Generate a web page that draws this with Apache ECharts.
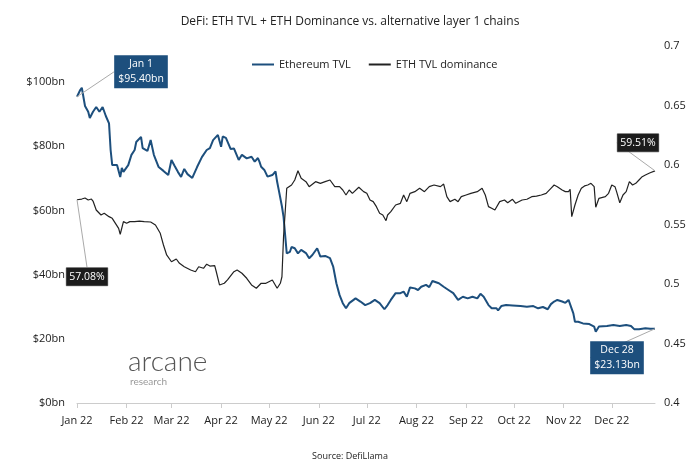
<!DOCTYPE html>
<html>
<head>
<meta charset="utf-8">
<script src="https://cdn.jsdelivr.net/npm/echarts@6/dist/echarts.min.js"></script>
<style>
  html, body { margin: 0; padding: 0; background: #fff; }
  #ethTvlChart { width: 700px; height: 475px; }
</style>
</head>
<body>
<div id="ethTvlChart"></div>
<script>
// days counted from Jan 1 2022
const tvlDays = [0, 2, 3, 4, 5, 7, 8, 9, 10, 12, 14, 16, 18, 20, 21, 22, 23, 25, 26, 27, 28, 29, 32, 34, 36, 37, 40, 41, 44, 46, 48, 51, 54, 57, 59, 61, 63, 65, 67, 69, 72, 75, 78, 81, 83, 85, 86, 88, 90, 91, 93, 96, 98, 101, 103, 106, 109, 111, 113, 114, 115, 117, 119, 122, 124, 125, 126, 128, 129, 130, 131, 133, 134, 136, 138, 140, 143, 145, 147, 150, 152, 155, 158, 160, 162, 164, 166, 168, 170, 174, 177, 180, 183, 186, 189, 192, 194, 196, 199, 202, 204, 206, 208, 211, 213, 215, 218, 220, 222, 226, 229, 232, 235, 238, 241, 244, 247, 250, 252, 254, 257, 259, 262, 263, 265, 268, 272, 277, 281, 285, 288, 291, 294, 296, 298, 300, 303, 305, 307, 308, 310, 311, 313, 316, 320, 323, 324, 326, 331, 335, 339, 343, 346, 348, 351, 355, 358, 361];
const tvlValues = [95.4, 97.5, 98.2, 98.1, 92.5, 90.7, 88.8, 88.2, 90.7, 92.2, 90.7, 92.2, 89.4, 87.1, 78.8, 74.1, 74.1, 74.1, 72.3, 70.4, 73.2, 72.0, 74.1, 77.3, 78.8, 81.3, 82.9, 79.4, 78.5, 81.9, 77.3, 73.5, 72.3, 71.0, 75.7, 73.8, 72.0, 70.4, 72.9, 71.3, 70.1, 73.5, 76.6, 78.8, 79.4, 81.9, 81.9, 83.5, 79.8, 83.0, 82.6, 79.1, 79.3, 75.7, 77.3, 76.2, 76.7, 75.2, 76.3, 75.1, 73.6, 72.6, 70.5, 71.0, 72.1, 68.9, 66.4, 61.2, 58.0, 52.3, 46.6, 47.1, 48.6, 48.2, 46.6, 47.7, 46.7, 45.1, 46.1, 48.2, 45.6, 45.8, 45.1, 42.5, 37.3, 33.6, 31.1, 29.5, 31.1, 32.6, 31.6, 30.5, 31.1, 32.1, 31.1, 29.2, 30.5, 32.1, 34.2, 34.2, 34.7, 33.1, 36.0, 35.7, 35.2, 36.2, 36.8, 36.1, 38.0, 37.3, 36.2, 35.2, 34.2, 32.1, 33.1, 32.6, 33.1, 32.6, 34.0, 33.1, 30.5, 29.5, 29.5, 28.8, 30.2, 30.5, 30.4, 30.2, 30.0, 30.2, 29.5, 29.9, 29.2, 30.8, 31.6, 32.1, 31.6, 31.2, 32.1, 31.6, 27.9, 25.3, 25.3, 24.8, 24.6, 23.8, 22.2, 23.8, 24.0, 24.3, 24.0, 24.3, 24.0, 23.0, 23.0, 23.3, 23.1, 23.13];

const domDays = [0, 3, 5, 7, 9, 10, 12, 15, 17, 20, 22, 24, 26, 27, 29, 31, 33, 36, 39, 42, 46, 49, 52, 54, 56, 59, 62, 64, 67, 71, 74, 76, 79, 81, 83, 86, 87, 89, 90, 92, 94, 98, 100, 103, 106, 109, 112, 115, 118, 122, 125, 127, 128, 129, 131, 134, 136, 138, 140, 143, 145, 149, 152, 155, 158, 161, 164, 166, 168, 170, 172, 176, 179, 181, 183, 185, 187, 189, 191, 193, 194, 196, 199, 202, 204, 206, 208, 211, 214, 217, 220, 223, 227, 229, 231, 233, 236, 238, 240, 243, 246, 250, 253, 255, 257, 259, 261, 264, 267, 269, 272, 274, 278, 281, 284, 287, 290, 293, 296, 298, 300, 303, 305, 307, 308, 309, 311, 313, 315, 317, 319, 321, 323, 324, 326, 327, 330, 332, 334, 336, 337, 339, 341, 343, 345, 347, 349, 351, 353, 355, 358, 359, 361];
const domValues = [0.5708, 0.5714, 0.5723, 0.5706, 0.5714, 0.5697, 0.5622, 0.5580, 0.5594, 0.5566, 0.5552, 0.5510, 0.5468, 0.5418, 0.5524, 0.5510, 0.5524, 0.5524, 0.5529, 0.5524, 0.5521, 0.5496, 0.5426, 0.5328, 0.5244, 0.5187, 0.5210, 0.5174, 0.5145, 0.5118, 0.5103, 0.5145, 0.5132, 0.5166, 0.5151, 0.5154, 0.5103, 0.4992, 0.4977, 0.5006, 0.5034, 0.5103, 0.5118, 0.5090, 0.5048, 0.4992, 0.4964, 0.5006, 0.5006, 0.5034, 0.4964, 0.5006, 0.5061, 0.5397, 0.5804, 0.5832, 0.5874, 0.5952, 0.5888, 0.5860, 0.5818, 0.5860, 0.5846, 0.5860, 0.5874, 0.5818, 0.5818, 0.5790, 0.5748, 0.5790, 0.5762, 0.5813, 0.5776, 0.5762, 0.5706, 0.5692, 0.5650, 0.5594, 0.5580, 0.5532, 0.5580, 0.5608, 0.5664, 0.5678, 0.5748, 0.5692, 0.5762, 0.5776, 0.5804, 0.5776, 0.5818, 0.5832, 0.5818, 0.5840, 0.5734, 0.5692, 0.5712, 0.5692, 0.5734, 0.5748, 0.5762, 0.5776, 0.5804, 0.5748, 0.5650, 0.5636, 0.5622, 0.5692, 0.5706, 0.5683, 0.5712, 0.5678, 0.5706, 0.5712, 0.5734, 0.5739, 0.5748, 0.5762, 0.5804, 0.5832, 0.5818, 0.5790, 0.5776, 0.5776, 0.5796, 0.5566, 0.5664, 0.5748, 0.5804, 0.5824, 0.5832, 0.5846, 0.5818, 0.5645, 0.5720, 0.5706, 0.5734, 0.5762, 0.5832, 0.5818, 0.5776, 0.5683, 0.5748, 0.5776, 0.5860, 0.5832, 0.5846, 0.5874, 0.5902, 0.5916, 0.5935, 0.5924, 0.5951];

const monthNames = ['Jan', 'Feb', 'Mar', 'Apr', 'May', 'Jun', 'Jul', 'Aug', 'Sep', 'Oct', 'Nov', 'Dec'];
const leftTicks = [0, 20, 40, 60, 80, 100];

const DAY = 24 * 3600 * 1000;
const start = Date.UTC(2022, 0, 1);
function toTime(d) {
  return start + d * DAY;
}

// first / last point get a callout box
function buildData(days, values, firstLabel, lastLabel) {
  return days.map(function (d, i) {
    let item = { value: [toTime(d), values[i]] };
    if (i === 0) item.label = firstLabel;
    if (i === days.length - 1) item.label = lastLabel;
    return item;
  });
}

const blueBox = {
  show: true,
  position: 'inside',
  color: '#fff',
  backgroundColor: '#1d4f7d',
  fontFamily: 'Open Sans',
  fontSize: 10.5,
  lineHeight: 15,
  padding: [2, 4, 1, 4],
  align: 'center'
};
const darkBox = {
  show: true,
  position: 'inside',
  color: '#fff',
  backgroundColor: '#1c1c1c',
  borderColor: '#888',
  borderWidth: 0.5,
  fontFamily: 'Open Sans',
  fontSize: 10.5,
  lineHeight: 15,
  padding: [2, 3, 1, 3]
};

let tvlData = buildData(tvlDays, tvlValues,
  Object.assign({}, blueBox, { formatter: 'Jan 1\n$95.40bn' }),
  Object.assign({}, blueBox, { formatter: 'Dec 28\n$23.13bn' }));
let domData = buildData(domDays, domValues,
  Object.assign({}, darkBox, { formatter: '57.08%' }),
  Object.assign({}, darkBox, { formatter: '59.51%' }));

let option = {
  backgroundColor: '#fff',
  useUTC: true,
  animation: false,
  textStyle: { fontFamily: 'Open Sans' },
  title: [
    {
      text: 'DeFi: ETH TVL + ETH Dominance vs. alternative layer 1 chains',
      left: 'center',
      top: 11,
      textStyle: { fontSize: 12, fontWeight: 'normal', color: '#222', fontFamily: 'Open Sans' }
    },
    {
      text: 'Source: DefiLlama',
      left: 'center',
      top: 447,
      textStyle: { fontSize: 9, fontWeight: 'normal', color: '#222', fontFamily: 'Open Sans' }
    }
  ],
  legend: {
    top: 54,
    left: 247,
    icon: 'rect',
    itemWidth: 22,
    itemHeight: 2,
    itemGap: 18,
    textStyle: { fontSize: 11, color: '#222' },
    data: ['Ethereum TVL', 'ETH TVL dominance']
  },
  graphic: [
    {
      type: 'text',
      left: 128,
      top: 348,
      style: { text: 'arcane', fontSize: 28, fontFamily: 'Lato', fontWeight: 300, fill: '#555' }
    },
    {
      type: 'text',
      left: 130,
      top: 377,
      style: { text: 'research', fontSize: 10, fontFamily: 'Lato', fill: '#999' }
    }
  ],
  grid: {
    left: 77,
    right: 45,
    top: 46,
    bottom: 72
  },
  xAxis: {
    type: 'time',
    min: toTime(0),
    max: toTime(361),
    splitNumber: 12,
    minInterval: 28 * DAY,
    maxInterval: 31 * DAY,
    axisLine: { show: true, lineStyle: { color: '#ccc' } },
    axisTick: { show: true, length: 5, lineStyle: { color: '#ccc' } },
    splitLine: { show: false },
    axisLabel: {
      color: '#222',
      fontSize: 11,
      margin: 12,
      hideOverlap: false,
      formatter: function (val) {
        let d = new Date(val);
        return monthNames[d.getUTCMonth()] + ' ' + String(d.getUTCFullYear()).slice(2);
      }
    }
  },
  yAxis: [
    {
      type: 'value',
      min: 0,
      max: 111.2,
      interval: 20,
      axisLine: { show: false },
      axisTick: { show: false },
      splitLine: { show: false },
      axisLabel: {
        color: '#222',
        fontSize: 11,
        margin: 12,
        showMaxLabel: false,
        formatter: function (val) {
          return leftTicks.indexOf(val) > -1 ? '$' + val + 'bn' : '';
        }
      }
    },
    {
      type: 'value',
      min: 0.4,
      max: 0.7,
      interval: 0.05,
      axisLine: { show: false },
      axisTick: { show: false },
      splitLine: { show: false },
      axisLabel: {
        color: '#222',
        fontSize: 11,
        margin: 9,
        formatter: function (val) {
          return String(+val.toFixed(2));
        }
      }
    }
  ],
  series: [
    {
      name: 'Ethereum TVL',
      type: 'line',
      yAxisIndex: 0,
      showSymbol: true,
      symbol: 'circle',
      symbolSize: 0,
      color: '#1d4f7d',
      lineStyle: { width: 2, color: '#1d4f7d' },
      label: { show: false },
      labelLine: { show: true, length2: 6, lineStyle: { color: '#aaa', width: 1 } },
      labelLayout: function (params) {
        if (params.dataIndex === 0) return { dx: 64, dy: -25 };
        return { dx: -38, dy: 29 };
      },
      data: tvlData
    },
    {
      name: 'ETH TVL dominance',
      type: 'line',
      yAxisIndex: 1,
      showSymbol: true,
      symbol: 'circle',
      symbolSize: 0,
      color: '#222',
      lineStyle: { width: 1.2, color: '#222' },
      label: { show: false },
      labelLine: { show: true, lineStyle: { color: '#aaa', width: 1 } },
      labelLayout: function (params) {
        if (params.dataIndex === 0) return { dx: 10, dy: 77 };
        return { dx: -17, dy: -28 };
      },
      data: domData
    }
  ]
};

let ethTvlChart = echarts.init(document.getElementById('ethTvlChart'));
ethTvlChart.setOption(option);
</script>
</body>
</html>
